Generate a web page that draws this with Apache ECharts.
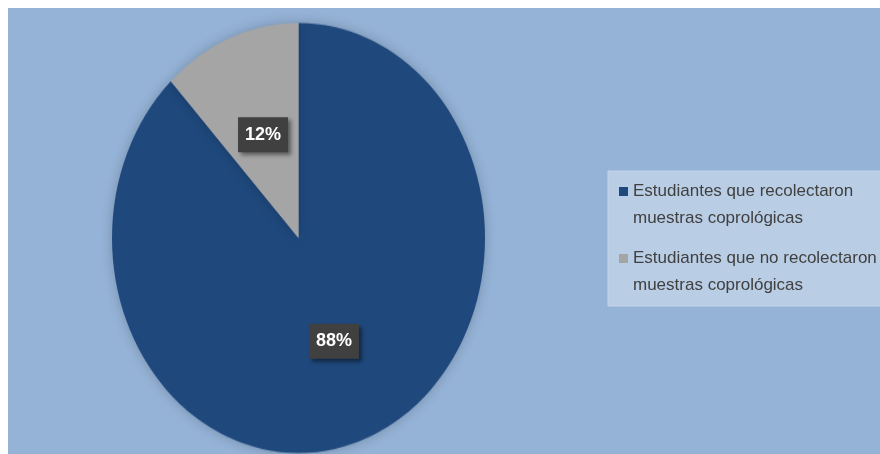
<!DOCTYPE html>
<html>
<head>
<meta charset="utf-8">
<script src="https://cdn.jsdelivr.net/npm/echarts@6/dist/echarts.min.js"></script>
<style>
  html, body { margin: 0; padding: 0; background: #ffffff; width: 880px; height: 454px; overflow: hidden; }
  #frame { position: absolute; left: 8px; top: 8px; width: 872px; height: 446px; background: #95b3d7; overflow: hidden; }
  #pie, #overlay { position: absolute; left: 0; top: 0; width: 872px; height: 446px; }
  /* the pie is drawn slightly taller than wide */
  #pie { transform-origin: 290.5px 230px; transform: scaleY(1.153); }
</style>
</head>
<body>
<div id="frame">
  <div id="pie"></div>
  <div id="overlay"></div>
</div>
<script>
// Data
const categories = [
  'Estudiantes que recolectaron muestras coprológicas',
  'Estudiantes que no recolectaron muestras coprológicas'
];
const legendLines = [
  ['Estudiantes que recolectaron', 'muestras coprológicas'],
  ['Estudiantes que no recolectaron', 'muestras coprológicas']
];
const values = [88, 12];
const colors = ['#1f497d', '#a5a5a5'];

// Geometry shared by both layers
const CX = 290.5, CY = 230, R = 186.5, K = 1.153;

const seriesData = categories.map((name, i) => ({ name: name, value: values[i] }));

// Layer 1: the coloured slices (stretched vertically by CSS)
const pieChart = echarts.init(document.getElementById('pie'), null, { renderer: 'canvas' });
pieChart.setOption({
  animation: false,
  series: [{
    type: 'pie',
    center: [CX, CY],
    radius: R,
    startAngle: 90,
    clockwise: true,
    silent: true,
    label: { show: false },
    labelLine: { show: false },
    itemStyle: {
      borderWidth: 0,
      shadowBlur: 12,
      shadowColor: 'rgba(0,0,0,0.22)'
    },
    data: seriesData.map((d, i) => ({ ...d, itemStyle: { color: colors[i] } }))
  }]
});

// Layer 2: value labels and legend (undistorted text)
const overlay = echarts.init(document.getElementById('overlay'), null, { renderer: 'canvas' });
overlay.setOption({
  animation: false,
  legend: {
    orient: 'vertical',
    left: 600,
    top: 163,
    selectedMode: false,
    data: categories.map((n, i) => ({ name: n, itemStyle: { color: colors[i] } })),
    icon: 'path://M0,0H9V9H0Z M0,36',
    itemWidth: 9,
    itemHeight: 36,
    itemGap: 13,
    padding: [7, 40, 7, 11],
    backgroundColor: '#b9cde5',
    borderColor: '#c4d4e9',
    borderWidth: 1,
    formatter: name => legendLines[categories.indexOf(name)].join('\n'),
    textStyle: { fontFamily: 'Liberation Sans', fontSize: 17, color: '#404040', lineHeight: 27 }
  },
  series: [{
    type: 'pie',
    center: [CX, CY],
    radius: R,
    startAngle: 90,
    clockwise: true,
    silent: true,
    itemStyle: { color: 'rgba(0,0,0,0)', borderWidth: 0 },
    labelLine: { show: false },
    label: {
      show: true,
      position: 'inside',
      formatter: '{c}%',
      color: '#ffffff',
      fontFamily: 'Liberation Sans',
      fontWeight: 'bold',
      fontSize: 18,
      backgroundColor: '#404040',
      padding: [9, 7, 8, 7],
      shadowColor: 'rgba(0,0,0,0.45)',
      shadowBlur: 4,
      shadowOffsetX: 3,
      shadowOffsetY: 3
    },
    // follow the vertical stretch of the slices
    labelLayout: function (params) {
      const r = params.labelRect;
      const mid = r.y + r.height / 2;
      return { dy: (mid - CY) * (K - 1) };
    },
    data: seriesData
  }]
});
</script>
</body>
</html>
